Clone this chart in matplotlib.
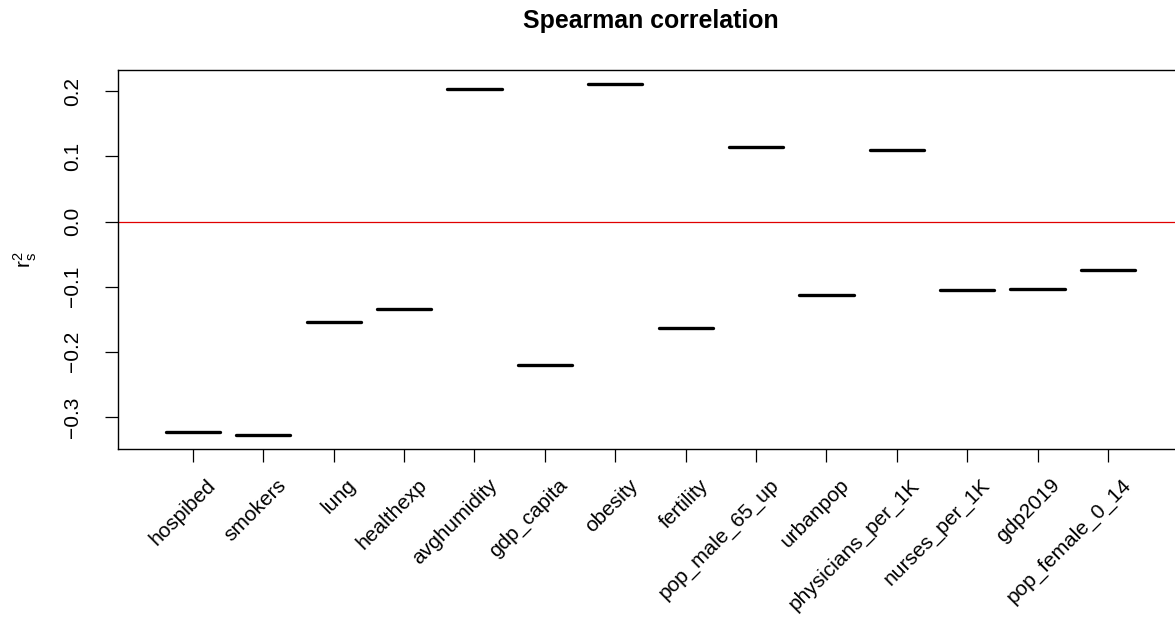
import matplotlib
matplotlib.use("Agg")
import matplotlib.pyplot as plt
import matplotlib.transforms as mtransforms

categories = ["hospibed", "smokers", "lung", "healthexp", "avghumidity", "gdp_capita",
              "obesity", "fertility", "pop_male_65_up", "urbanpop", "physicians_per_1K",
              "nurses_per_1K", "gdp2019", "pop_female_0_14"]
rs = [-0.3237, -0.3283, -0.1542, -0.1343, 0.2031, -0.2201, 0.2113, -0.1639,
      0.1148, -0.1134, 0.1107, -0.1057, -0.1032, -0.0741]
yticks = [-0.3, -0.2, -0.1, 0.0, 0.1, 0.2]
ytick_labels = ["\u22120.3", "\u22120.2", "\u22120.1", "0.0", "0.1", "0.2"]

plt.rcParams["font.family"] = ["Liberation Sans", "DejaVu Sans"]
plt.rcParams["mathtext.fontset"] = "custom"
plt.rcParams["mathtext.rm"] = "Liberation Sans"
plt.rcParams["mathtext.it"] = "Liberation Sans"

W, H = 1175, 618
fig = plt.figure(figsize=(W / 100, H / 100), dpi=100)
left, right, top, bottom = 118.3, 1182.6, 70.0, 449.3
ax = fig.add_axes([left / W, 1 - bottom / H, (right - left) / W, (bottom - top) / H])

n = len(categories)
xs = list(range(1, n + 1))
for x, v in zip(xs, rs):
    ax.plot([x - 0.385, x + 0.385], [v, v], color="black", lw=2.4, solid_capstyle="round")
ax.axhline(0, color="#e00000", lw=0.9)

ax.set_xlim(-0.06, n + 1.06)
ymin, ymax = min(rs), max(rs)
rng = ymax - ymin
ax.set_ylim(ymin - 0.04 * rng, ymax + 0.04 * rng)

for s in ax.spines.values():
    s.set_linewidth(1.0)

ax.set_xticks(xs)
ax.set_xticklabels([])
ax.tick_params(axis="x", length=9.3, width=0.9)
ax.set_yticks(yticks)
ax.set_yticklabels(ytick_labels, rotation=90, va="center", fontsize=15)
ax.tick_params(axis="y", length=9.3, width=0.9, pad=17)

trans = mtransforms.blended_transform_factory(ax.transData, ax.transAxes)
for x, lab in zip(xs, categories):
    ax.text(x + 0.28, -0.087, lab, transform=trans, rotation=45, ha="right", va="center",
            rotation_mode="anchor", fontsize=15, clip_on=False)

fig.text(25 / W, 1 - 259.6 / H, r"$\mathrm{r}_\mathrm{s}^2$", rotation=90,
         ha="center", va="center", fontsize=15)
fig.text((left + right) / 2 / W, 1 - 28 / H, "Spearman correlation", ha="center",
         va="baseline", fontsize=17.9, fontweight="bold")

fig.savefig("out.png", dpi=100)
